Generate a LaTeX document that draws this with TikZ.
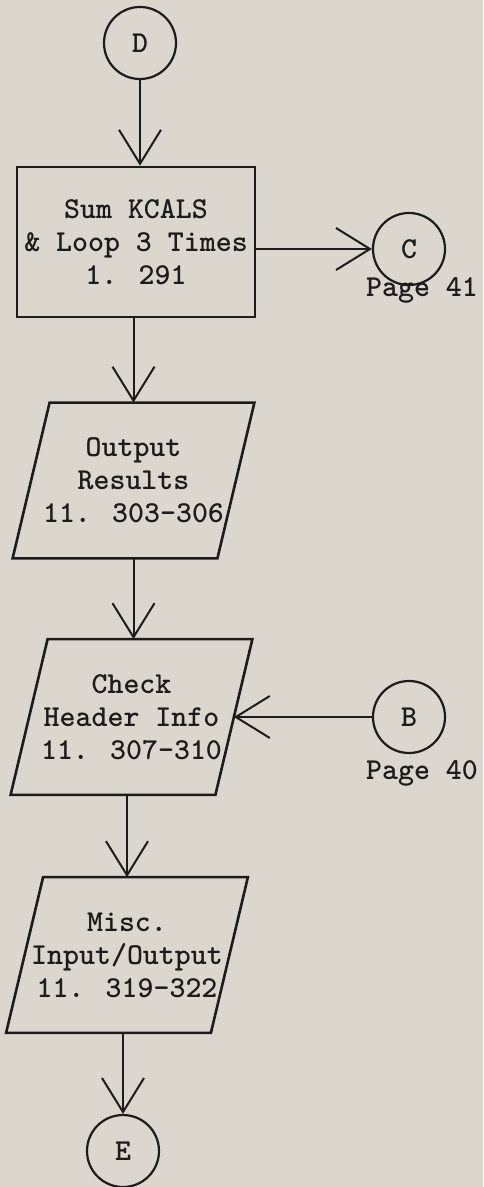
\documentclass[tikz,border=0pt]{standalone}
\usepackage{fontspec}
\usetikzlibrary{arrows.meta}
\definecolor{paper}{RGB}{219,215,207}
\definecolor{ink}{RGB}{28,28,28}
\newcommand{\typed}{\ttfamily\bfseries\fontsize{15.2}{16.5}\selectfont}
\tikzset{
  conn/.style={circle,draw=ink,line width=1.1pt,minimum size=36pt,inner sep=0pt,
    text=ink,font=\typed},
  procbox/.style={rectangle,draw=ink,line width=1.3pt,minimum width=119pt,
    minimum height=75pt,inner sep=0pt,align=center,text=ink,font=\typed},
  % body of an input/output box; the slanted outline is drawn around it
  iobody/.style={rectangle,minimum width=102pt,minimum height=77.5pt,
    inner sep=0pt,align=center,text=ink,font=\typed},
  ioline/.style={draw=ink,line width=1.3pt,line join=miter},
  txt/.style={inner sep=0pt,text=ink,font=\typed},
  flow/.style={draw=ink,line width=1pt,
    -{Straight Barb[length=17pt,width=21pt,line width=1pt]}}
}
% parallelogram outline around a body node: top shifted right, bottom left
\newcommand{\ioframe}[1]{%
  \draw[ioline] ([xshift=9.25pt]#1.north west) -- ([xshift=9.25pt]#1.north east)
    -- ([xshift=-9.25pt]#1.south east) -- ([xshift=-9.25pt]#1.south west) -- cycle;}
\begin{document}
\begin{tikzpicture}[x=0.5pt,y=-0.5pt]
  \fill[paper] (0,0) rectangle (483,1187);
  \useasboundingbox (0,0) rectangle (483,1187);

  \node[conn] (d) at (140,43) {D};
  \node[procbox] (sum) at (136,242) {Sum KCALS\\\& Loop 3 Times\\1. 291};
  \node[conn] (c) at (409,249) {C};
  \node[txt] (cpage) at (422,290) {Page 41};

  \node[iobody] (out) at (133.5,480.5) {Output\\Results\\11. 303-306};
  \ioframe{out}

  \node[iobody] (chk) at (131.5,717) {Check\\Header Info\\11. 307-310};
  \ioframe{chk}
  \node[conn] (b) at (409,717) {B};
  \node[txt] (bpage) at (422,773) {Page 40};

  \node[iobody] (misc) at (127,955) {Misc.\\Input/Output\\11. 319-322};
  \ioframe{misc}

  \node[conn] (e) at (123,1151) {E};

  % flow lines
  \draw[flow] (d) -- (d |- sum.north);
  \draw[flow] (c.west -| sum.east) -- (c.west);
  \draw[flow] (out.north |- sum.south) -- (out.north);
  \draw[flow] (out.south) -- (out.south |- chk.north);
  \draw[flow] (b) -- (chk.east);
  \draw[flow] (misc.north |- chk.south) -- (misc.north);
  \draw[flow] (e |- misc.south) -- (e);
\end{tikzpicture}
\end{document}
